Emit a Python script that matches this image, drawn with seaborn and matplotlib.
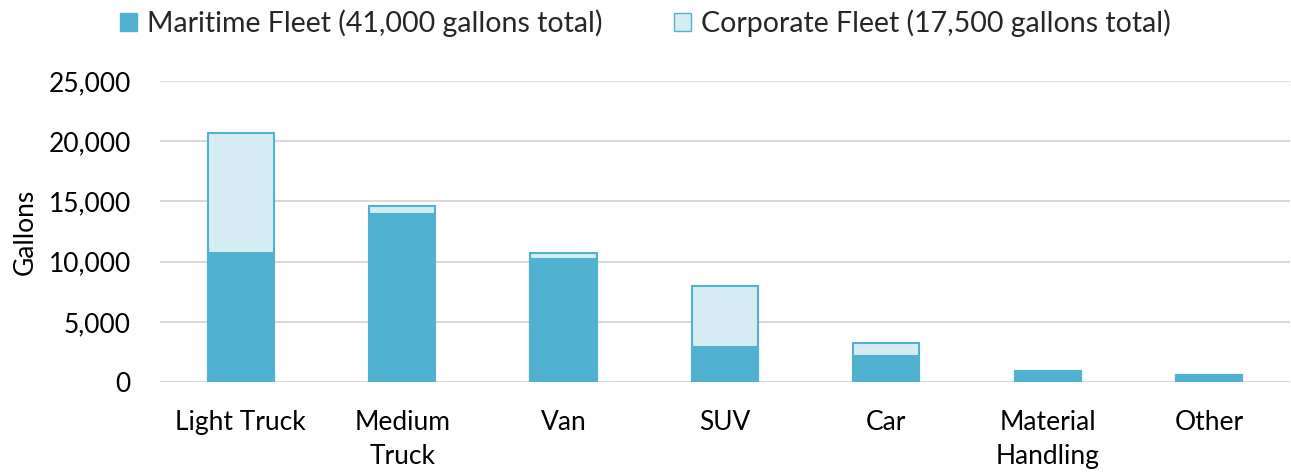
import numpy as np
import pandas as pd
import matplotlib.pyplot as plt
import seaborn as sns
from matplotlib.patches import Patch
from matplotlib.ticker import FuncFormatter

# values (gallons)
categories = ["Light Truck", "Medium\nTruck", "Van", "SUV", "Car",
              "Material\nHandling", "Other"]
maritime = [10750, 13950, 10250, 2900, 2200, 900, 550]
corporate = [9950, 700, 450, 5050, 1050, 0, 0]

maritime_label = "Maritime Fleet (41,000 gallons total)"
corporate_label = "Corporate Fleet (17,500 gallons total)"

dark = "#51B1D1"
light = "#D6ECF3"

df = pd.DataFrame({"category": categories,
                   "maritime": maritime,
                   "total": np.array(maritime) + np.array(corporate)})

sns.set_style("white")
plt.rcParams["font.family"] = ["Lato", "DejaVu Sans"]

fig = plt.figure(figsize=(12.91, 4.74), dpi=100)
ax = fig.add_axes([0.124, 0.194, 0.875, 0.635])

# stacked look: total bar in light colour, maritime drawn over it
sns.barplot(data=df, x="category", y="total", color=light, saturation=1,
            width=0.41, edgecolor=dark, linewidth=1.5, ax=ax, zorder=2)
sns.barplot(data=df, x="category", y="maritime", color=dark, saturation=1,
            width=0.41, edgecolor=dark, linewidth=1.5, ax=ax, zorder=3)

ax.set_ylim(0, 25000)
ax.set_yticks(range(0, 25001, 5000))
ax.yaxis.set_major_formatter(FuncFormatter(lambda v, p: f"{int(v):,}"))
ax.yaxis.grid(True, color="#D9D9D9", linewidth=1.5, zorder=0)
ax.set_axisbelow(True)
for s in ax.spines.values():
    s.set_visible(False)

ax.set_xlabel("")
ax.set_ylabel("Gallons", fontsize=19, color="#000000", labelpad=8)
ax.tick_params(axis="both", length=0, labelsize=19, colors="#000000")
ax.tick_params(axis="x", pad=20)
ax.tick_params(axis="y", pad=21)
for t in ax.get_xticklabels():
    t.set_linespacing(1.45)

handles = [Patch(facecolor=dark, edgecolor=dark, label=maritime_label),
           Patch(facecolor=light, edgecolor=dark, label=corporate_label)]
fig.legend(handles=handles, loc="upper center", bbox_to_anchor=(0.5, 1.035),
           ncol=2, frameon=False, fontsize=20.5, handlelength=0.6,
           handleheight=0.6, handletextpad=0.35, columnspacing=2.5)

fig.savefig("out.png", dpi=100)
